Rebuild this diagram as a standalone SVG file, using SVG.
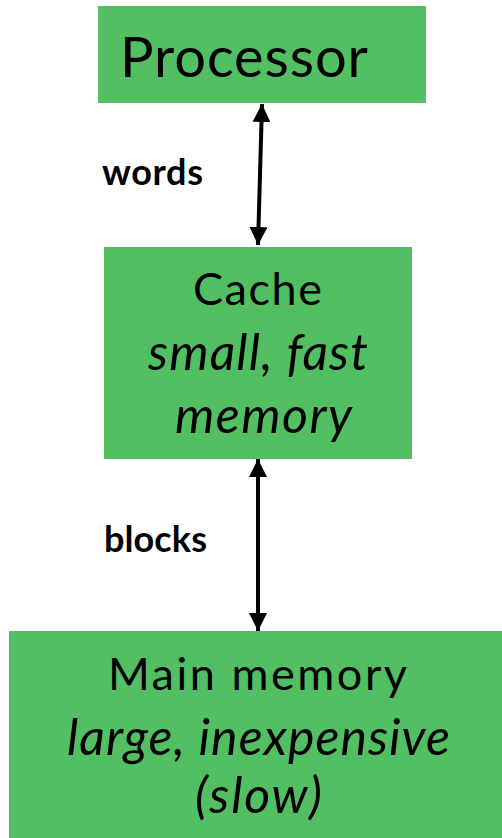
<svg xmlns="http://www.w3.org/2000/svg" width="502" height="838" viewBox="0 0 502 838">
<style>
.box{fill:#51BF62}
.t{font-family:Lato,"Open Sans","Liberation Sans",sans-serif;fill:#000;text-anchor:middle;font-size:45px}
.i{font-style:italic;font-size:50px}
.lbl{font-family:Lato,"Liberation Sans",sans-serif;font-weight:bold;font-size:36px;fill:#000}
.conn{stroke:#000;stroke-width:4;fill:none}
</style>
<defs>
<marker id="ah" viewBox="0 0 10 10" refX="10" refY="5" markerWidth="4.5" markerHeight="4.5" orient="auto-start-reverse" markerUnits="strokeWidth">
<path d="M0,0 L10,5 L0,10 Z" fill="#000"/>
</marker>
</defs>
<g id="processor">
<rect class="box" x="98" y="6" width="328" height="97"/>
<text class="t" x="244" y="77" style="font-size:56px" textLength="248">Processor</text>
</g>
<g id="cache">
<rect class="box" x="104" y="247" width="308" height="212"/>
<text class="t" x="257.5" y="305" textLength="129">Cache</text>
<text class="t i" x="258" y="370" textLength="220">small, fast</text>
<text class="t i" x="263.5" y="433" textLength="177">memory</text>
</g>
<g id="main-memory">
<rect class="box" x="9" y="631" width="500" height="210"/>
<text class="t" x="257.5" y="690" textLength="299">Main memory</text>
<text class="t i" x="258.5" y="755" textLength="383">large, inexpensive</text>
<text class="t i" x="258.5" y="813" textLength="127">(slow)</text>
</g>
<g id="connectors">
<line class="conn" x1="262" y1="104" x2="258" y2="245" marker-start="url(#ah)" marker-end="url(#ah)"/>
<line class="conn" x1="258" y1="459" x2="258" y2="631" marker-start="url(#ah)" marker-end="url(#ah)"/>
<text class="lbl" x="102" y="185" textLength="101">words</text>
<text class="lbl" x="104" y="552" textLength="103">blocks</text>
</g>
</svg>
